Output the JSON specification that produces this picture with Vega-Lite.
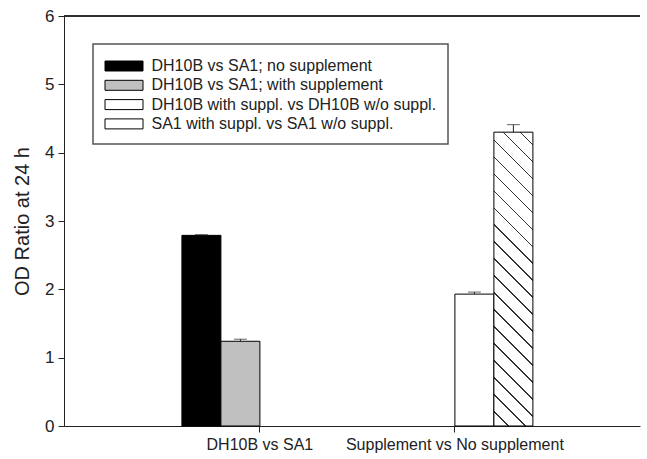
{
  "$schema": "https://vega.github.io/schema/vega-lite/v6.json",
  "autosize": "none",
  "padding": {"left": 64, "top": 16, "right": 7, "bottom": 33},
  "width": 576,
  "height": 410,
  "background": "white",
  "view": {"stroke": null},
  "config": {
    "font": "Liberation Sans",
    "axis": {"domainColor": "#222", "tickColor": "#222", "labelColor": "#222", "titleColor": "#222", "labelFont": "Liberation Sans", "titleFont": "Liberation Sans", "grid": false},
    "legend": {"strokeColor": "#555", "strokeWidth": 1.5}
  },
  "data": {
    "values": [
      {"cat": "DH10B vs SA1", "series": "DH10B vs SA1; no supplement", "value": 2.79, "err": 2.8},
      {"cat": "DH10B vs SA1", "series": "DH10B vs SA1; with supplement", "value": 1.24, "err": 1.27},
      {"cat": "Supplement vs No supplement", "series": "DH10B with suppl. vs DH10B w/o suppl.", "value": 1.93, "err": 1.96},
      {"cat": "Supplement vs No supplement", "series": "SA1 with suppl. vs SA1 w/o suppl.", "value": 4.3, "err": 4.41}
    ]
  },
  "layer": [
    {
      "mark": {"type": "bar", "stroke": "black", "strokeWidth": 1},
      "encoding": {
        "x": {
          "field": "cat", "type": "nominal", "sort": null,
          "scale": {"paddingInner": 0.2, "paddingOuter": 0.577, "align": 0.524},
          "axis": {"title": null, "labelAngle": 0, "tickSize": 6, "labelFontSize": 16, "labelPadding": 4, "domainWidth": 1, "labelLimit": 0}
        },
        "xOffset": {
          "field": "series", "type": "nominal",
          "scale": {"domain": ["DH10B vs SA1; no supplement", "DH10B vs SA1; with supplement", "DH10B with suppl. vs DH10B w/o suppl.", "SA1 with suppl. vs SA1 w/o suppl."], "paddingInner": 0, "paddingOuter": 0}
        },
        "y": {
          "field": "value", "type": "quantitative",
          "scale": {"domain": [0, 6], "nice": false, "zero": true},
          "axis": {"values": [0, 1, 2, 3, 4, 5, 6], "format": "d", "title": "OD Ratio at 24 h", "titleFontSize": 20, "titleFontWeight": "normal", "labelFontSize": 17, "tickSize": 6, "labelPadding": 4, "titlePadding": 12}
        },
        "color": {
          "field": "series", "type": "nominal",
          "scale": {"domain": ["DH10B vs SA1; no supplement", "DH10B vs SA1; with supplement", "DH10B with suppl. vs DH10B w/o suppl.", "SA1 with suppl. vs SA1 w/o suppl."], "range": ["black", "#c0c0c0", "white", "white"]},
          "condition": {
            "test": "datum.series === 'SA1 with suppl. vs SA1 w/o suppl.'",
            "value": {
              "gradient": "linear", "x1": 0, "y1": 1, "x2": 0.1478, "y2": -0.1131,
              "stops": [
                {"offset": 0, "color": "white"},
                {"offset": 0.0422, "color": "white"}, {"offset": 0.0422, "color": "#333"}, {"offset": 0.0466, "color": "#333"}, {"offset": 0.0466, "color": "white"},
                {"offset": 0.0932, "color": "white"}, {"offset": 0.0932, "color": "#333"}, {"offset": 0.0976, "color": "#333"}, {"offset": 0.0976, "color": "white"},
                {"offset": 0.1441, "color": "white"}, {"offset": 0.1441, "color": "#333"}, {"offset": 0.1485, "color": "#333"}, {"offset": 0.1485, "color": "white"},
                {"offset": 0.1951, "color": "white"}, {"offset": 0.1951, "color": "#333"}, {"offset": 0.1995, "color": "#333"}, {"offset": 0.1995, "color": "white"},
                {"offset": 0.2461, "color": "white"}, {"offset": 0.2461, "color": "#333"}, {"offset": 0.2505, "color": "#333"}, {"offset": 0.2505, "color": "white"},
                {"offset": 0.2971, "color": "white"}, {"offset": 0.2971, "color": "#333"}, {"offset": 0.3015, "color": "#333"}, {"offset": 0.3015, "color": "white"},
                {"offset": 0.348, "color": "white"}, {"offset": 0.348, "color": "#333"}, {"offset": 0.3524, "color": "#333"}, {"offset": 0.3524, "color": "white"},
                {"offset": 0.399, "color": "white"}, {"offset": 0.399, "color": "#333"}, {"offset": 0.4034, "color": "#333"}, {"offset": 0.4034, "color": "white"},
                {"offset": 0.45, "color": "white"}, {"offset": 0.45, "color": "#333"}, {"offset": 0.4544, "color": "#333"}, {"offset": 0.4544, "color": "white"},
                {"offset": 0.5009, "color": "white"}, {"offset": 0.5009, "color": "#333"}, {"offset": 0.5053, "color": "#333"}, {"offset": 0.5053, "color": "white"},
                {"offset": 0.5519, "color": "white"}, {"offset": 0.5519, "color": "#333"}, {"offset": 0.5563, "color": "#333"}, {"offset": 0.5563, "color": "white"},
                {"offset": 0.6029, "color": "white"}, {"offset": 0.6029, "color": "#333"}, {"offset": 0.6073, "color": "#333"}, {"offset": 0.6073, "color": "white"},
                {"offset": 0.6538, "color": "white"}, {"offset": 0.6538, "color": "#333"}, {"offset": 0.6582, "color": "#333"}, {"offset": 0.6582, "color": "white"},
                {"offset": 0.7048, "color": "white"}, {"offset": 0.7048, "color": "#333"}, {"offset": 0.7092, "color": "#333"}, {"offset": 0.7092, "color": "white"},
                {"offset": 0.7558, "color": "white"}, {"offset": 0.7558, "color": "#333"}, {"offset": 0.7602, "color": "#333"}, {"offset": 0.7602, "color": "white"},
                {"offset": 0.8068, "color": "white"}, {"offset": 0.8068, "color": "#333"}, {"offset": 0.8112, "color": "#333"}, {"offset": 0.8112, "color": "white"},
                {"offset": 0.8577, "color": "white"}, {"offset": 0.8577, "color": "#333"}, {"offset": 0.8621, "color": "#333"}, {"offset": 0.8621, "color": "white"},
                {"offset": 0.9087, "color": "white"}, {"offset": 0.9087, "color": "#333"}, {"offset": 0.9131, "color": "#333"}, {"offset": 0.9131, "color": "white"},
                {"offset": 0.9597, "color": "white"}, {"offset": 0.9597, "color": "#333"}, {"offset": 0.9641, "color": "#333"}, {"offset": 0.9641, "color": "white"},
                {"offset": 1, "color": "white"}
              ]
            }
          },
          "legend": {
            "orient": "none", "legendX": 29, "legendY": 28, "title": null,
            "symbolType": "M-1,-0.5H2.8V0.5H-1Z", "symbolSize": 400,
            "symbolStrokeColor": "black", "symbolStrokeWidth": 1,
            "labelFontSize": 16, "labelFont": "Liberation Sans", "labelColor": "#222", "labelLimit": 0,
            "labelOffset": 26, "rowPadding": 0.3, "padding": 11.5,
            "encode": {
              "symbols": {
                "update": {
                  "stroke": {"value": "black"},
                  "strokeWidth": {"value": 1},
                  "opacity": {"value": 1}
                }
              }
            }
          }
        }
      }
    },
    {
      "mark": {"type": "rule", "color": "#222", "strokeWidth": 1},
      "encoding": {
        "x": {"field": "cat", "type": "nominal", "sort": null},
        "xOffset": {"field": "series", "type": "nominal"},
        "y": {"field": "value", "type": "quantitative"},
        "y2": {"field": "err"}
      }
    },
    {
      "mark": {"type": "tick", "color": "#222", "thickness": 1, "size": 13},
      "encoding": {
        "x": {"field": "cat", "type": "nominal", "sort": null},
        "xOffset": {"field": "series", "type": "nominal"},
        "y": {"field": "err", "type": "quantitative"}
      }
    },
    {
      "mark": {"type": "rule", "color": "#222", "strokeWidth": 1},
      "encoding": {
        "y": {"datum": 6, "type": "quantitative"}
      }
    }
  ]
}
